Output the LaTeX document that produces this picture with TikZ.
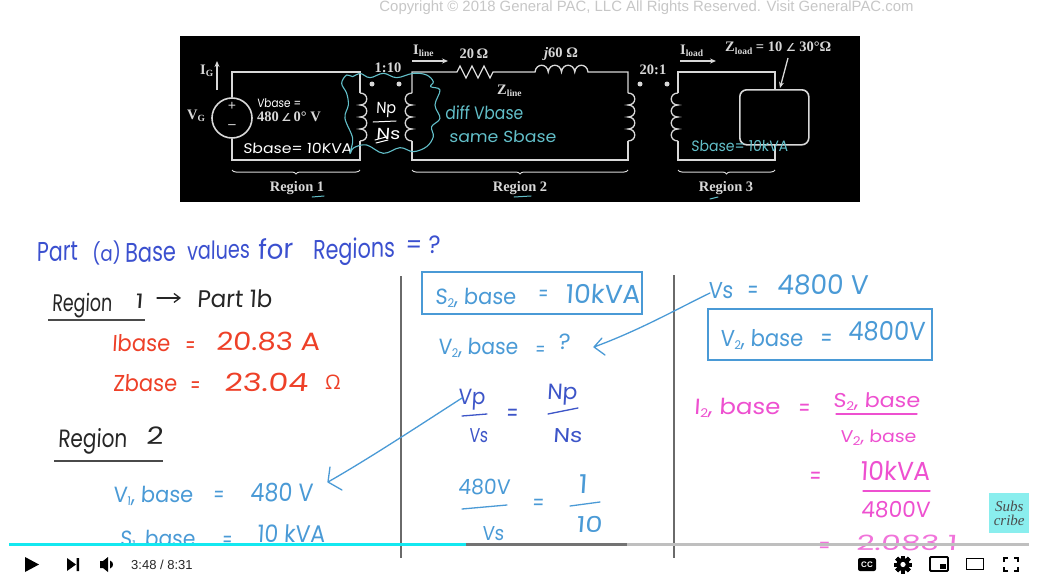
\documentclass[tikz,border=0pt]{standalone}
\usepackage{fontspec}
\usepackage{graphicx}
\usetikzlibrary{decorations.pathreplacing,arrows.meta}
\setmainfont{Liberation Serif}
\newfontfamily\handf[FakeSlant=0.06]{Poppins}
\newfontfamily\uif{Liberation Sans}
\newfontfamily\subsf[Ligatures=TeX]{Liberation Serif}
\newfontfamily\djv{DejaVu Sans}
\newfontfamily\omf{Open Sans}
\definecolor{tealh}{HTML}{62BFC9}
\definecolor{wirec}{HTML}{D8D8D8}
\definecolor{titleb}{HTML}{3B50CF}
\definecolor{redh}{HTML}{EE4028}
\definecolor{skyh}{HTML}{4A9AD6}
\definecolor{pinkh}{HTML}{EE50D0}
\definecolor{inkh}{HTML}{262626}
\definecolor{eqblue}{HTML}{3D55C8}
\definecolor{rulec}{HTML}{6A6A6A}
\definecolor{barcyan}{HTML}{14E8F0}
\definecolor{subbox}{HTML}{8AEEEE}
\tikzset{
  wire/.style={draw=wirec,line width=1.3pt},
  dotn/.style={circle,fill=wirec,minimum size=5pt,inner sep=0},
  slabel/.style={text=wirec,font=\bfseries\fontsize{14.5}{14.5}\selectfont,inner sep=0},
  hwnode/.style={inner sep=0,outer sep=0},
  stroke/.style={line width=1.3pt,line cap=round,line join=round},
  brc/.style={draw=wirec,line width=1pt,decorate,decoration={brace,amplitude=4pt,mirror}},
  uiicon/.style={fill=black,draw=none},
}
% [rotation]{name}{x left}{x right}{y centre}{font size}{colour}{text}
\newcommand\hw[8][0]{%
  \pgfmathsetlengthmacro\hwwid{(#4)-(#3)}%
  \pgfmathsetmacro\hwbase{(#5)+0.36*(#6)}%
  \node[hwnode,anchor=base west,text=#7,rotate=#1] (#2) at (#3,\hwbase)
    {\resizebox{\hwwid}{\height}{\handf\fontsize{#6}{#6}\selectfont #8}};}
\newcommand\sbb[1]{\raisebox{-2.5pt}{\fontsize{9.5}{9.5}\selectfont #1}}
\newcommand\hsub[1]{\raisebox{-3pt}{\fontsize{12}{12}\selectfont #1}}
\begin{document}
\begin{tikzpicture}[x=1pt,y=-1pt]
\useasboundingbox[fill=white] (0,0) rectangle (1038,578);
% ---------- copyright
\node[text=black!22,inner sep=0,font=\uif\fontsize{14.9}{14.9}\selectfont] (copy) at (646.5,8) {Copyright © 2018 General PAC, LLC All Rights Reserved. Visit GeneralPAC.com};
% ---------- black panel
\node[fill=black,minimum width=680pt,minimum height=166pt,inner sep=0,anchor=north west] (panel) at (180,36) {};
% wires
\coordinate (tl) at (232,72); \coordinate (bl) at (232,160);
\coordinate (c1t) at (360,93); \coordinate (c1b) at (360,141);
\coordinate (c2t) at (412,93); \coordinate (c2b) at (412,141);
\coordinate (c3t) at (628,93); \coordinate (c3b) at (628,141);
\coordinate (c4t) at (678,93); \coordinate (c4b) at (678,141);
\node[draw=wirec,line width=1.6pt,circle,minimum size=40pt,inner sep=0] (src) at (232,118) {};
\node[draw=wirec,line width=1.6pt,rounded corners=7pt,minimum width=69pt,minimum height=55pt,inner sep=0,anchor=north west] (load) at (739,89) {};
\draw[wire] (src.north) -- (tl) -- (360,72) -- (c1t);
\draw[wire] (c1t) \foreach \i in {1,2,3,4} { .. controls +(9,0) and +(9,0) .. ++(0,12) };
\draw[wire] (c1b) -- (360,160) -- (bl) -- (src.south);
\draw[wire] (c2t) -- (412,72) -- (457,72)
  -- (460,66) -- (466,78) -- (472,66) -- (478,78) -- (484,66) -- (490,78) -- (493,72)
  -- (510,72) -- (535,72)
  \foreach \i in {1,2,3,4} { .. controls +(1,-9) and +(-1,-9) .. ++(13.25,0) }
  -- (628,72) -- (c3t);
\draw[wire] (c2t) \foreach \i in {1,2,3,4} { .. controls +(-9,0) and +(-9,0) .. ++(0,12) };
\draw[wire] (c2b) -- (412,160) -- (628,160) -- (c3b);
\draw[wire] (c3t) \foreach \i in {1,2,3,4} { .. controls +(9,0) and +(9,0) .. ++(0,12) };
\draw[wire] (c4t) \foreach \i in {1,2,3,4} { .. controls +(-9,0) and +(-9,0) .. ++(0,12) };
\draw[wire] (c4t) -- (678,72) -- (775,72) -- (775,89);
\draw[wire] (c4b) -- (678,160) -- (775,160) -- (775,144);
% dots
\node[dotn] (d1) at (372,84) {}; \node[dotn] (d2) at (399,84) {};
\node[dotn] (d3) at (640,84) {}; \node[dotn] (d4) at (667,84) {};
% source signs
\node[slabel] (plus) at (232,106) {+};
\node[slabel] (minus) at (232,127) {–};
% panel arrows
\coordinate (igA) at (217,90); \coordinate (igB) at (217,61);
\draw[wire,-{Stealth[length=6pt,width=5pt]}] (igA) -- (igB);
\coordinate (ilA) at (412,61); \coordinate (ilB) at (448,61);
\draw[wire,-{Stealth[length=6pt,width=5pt]}] (ilA) -- (ilB);
\coordinate (ildA) at (680,61); \coordinate (ildB) at (716,61);
\draw[wire,-{Stealth[length=6pt,width=5pt]}] (ildA) -- (ildB);
\coordinate (zl) at (788,58);
\draw[wire,-{Stealth[length=6pt,width=5pt]}] (zl) -- (780,88);
% panel labels
\node[slabel,anchor=west] (ig) at (200,71) {I\sbb{G}};
\node[slabel,anchor=west] (vg) at (187,116) {V\sbb{G}};
\node[slabel,anchor=west] (vval) at (257,117) {480\,{\djv\fontsize{11}{11}\selectfont∠}\,0° V};
\node[slabel] (ratio1) at (388,68) {1:10};
\node[slabel,anchor=west] (iline) at (413,51) {I\sbb{line}};
\node[slabel] (r20) at (474,54) {20\,Ω};
\node[slabel] (j60) at (561,54) {\textit{j}60 Ω};
\node[slabel,anchor=west] (zline) at (497,91) {Z\sbb{line}};
\node[slabel] (ratio2) at (653,70) {20:1};
\node[slabel,anchor=west] (iload) at (680,51) {I\sbb{load}};
\node[slabel,anchor=west] (zload) at (725,48) {Z\sbb{load} = 10 {\djv\fontsize{11}{11}\selectfont∠} 30°Ω};
\node[slabel] (reg1) at (297,188) {Region 1};
\node[slabel] (reg2) at (520,188) {Region 2};
\node[slabel] (reg3) at (726,188) {Region 3};
% braces
\coordinate (b1a) at (232,170); \coordinate (b1b) at (360,170);
\coordinate (b2a) at (412,170); \coordinate (b2b) at (628,170);
\coordinate (b3a) at (678,170); \coordinate (b3b) at (775,170);
\draw[brc] (b1a) -- (b1b);
\draw[brc] (b2a) -- (b2b);
\draw[brc] (b3a) -- (b3b);
% panel handwriting
\hw{pa}{257}{301}{103}{12}{white}{Vbase =}
\hw{pb}{243}{352}{148}{14}{white}{Sbase= 10KVA}
\hw{pc}{376}{396}{108}{16}{white}{Np}
\hw{pd}{376}{400}{134}{16}{white}{Ns}
\draw[white,stroke,line width=1pt] (373,122) -- (396,121);
\draw[white,stroke,line width=1pt] (375,140) -- (386,137) (376,143) -- (388,140);
\hw{pe}{445}{523}{113}{18}{tealh}{diff Vbase}
\hw{pf}{449}{556}{137}{16}{tealh}{same Sbase}
\hw{pg}{691}{788}{146}{15}{tealh}{Sbase= 10kVA}
\draw[tealh,stroke,line width=1pt] (312,197) -- (324,196) (514,197) -- (531,196) (710,199) -- (718,197);
\begin{scope}[shift={(170,25)},x=0.3333pt,y=-0.3333pt]
\draw[tealh,line width=1.1pt,line join=round] plot[smooth cycle,tension=0.6] coordinates {
 (515,175) (530,150) (548,155) (570,145) (600,158) (640,145) (680,158) (730,145) (770,150)
 (790,170) (782,185) (810,195) (795,240) (810,280) (785,305) (790,335) (770,365) (730,380) (690,368) (640,385)
 (590,360) (552,368) (540,385) (548,340) (525,280) (535,240) (530,205)};
\end{scope}
% ---------- rules
\coordinate (ra) at (401,276); \coordinate (rb) at (401,558);
\coordinate (rc) at (674,275); \coordinate (rd) at (674,558);
\draw[rulec,line width=1.4pt] (ra) -- (rb);
\draw[rulec,line width=1.4pt] (rc) -- (rd);
% ---------- title
\hw[2]{t1}{37}{78}{252}{27}{titleb}{Part}
\hw[2]{t2}{92}{121}{254}{21}{titleb}{(a)}
\hw[2]{t3}{125}{176}{253}{27}{titleb}{Base}
\hw[2]{t4}{187}{250}{251}{25}{titleb}{values}
\hw[2]{t5}{258}{293}{250}{27}{titleb}{for}
\hw[2]{t6}{313}{395}{250}{27}{titleb}{Regions}
\hw{t7}{405}{440}{244}{25}{titleb}{= ?}
% ---------- left column
\hw{a1}{52}{112}{303}{24}{inkh}{Region}
\hw{a2}{135}{143}{301}{20}{inkh}{1}
\hw{a3}{197}{272}{299}{24}{inkh}{Part 1b}
\draw[inkh,stroke,-{Straight Barb[length=6pt,width=9pt]}] (a2.east) ++(14,-3) -- ++(24,0);
\coordinate (u1a) at (48,320); \coordinate (u1b) at (145,320);
\draw[rulec!70!black,line width=1.6pt] (u1a) -- (u1b);
\hw{b1}{112}{170}{343}{23}{redh}{Ibase}
\hw{b2}{185}{195}{345}{23}{redh}{=}
\hw{b3}{216}{320}{341}{25}{redh}{20.83 A}
\hw{c1}{113}{177}{383}{23}{redh}{Zbase}
\hw{c2}{190}{200}{385}{23}{redh}{=}
\hw{c3}{224}{308}{382}{25}{redh}{23.04}
\node[hwnode,text=redh,font=\omf\fontsize{20}{20}\selectfont] (c4) at (333,382) {Ω};
\hw{d1}{58}{127}{438}{25}{inkh}{Region}
\hw{d2}{146}{163}{436}{24}{inkh}{2}
\coordinate (u2a) at (54,461); \coordinate (u2b) at (163,461);
\draw[rulec!70!black,line width=1.6pt] (u2a) -- (u2b);
\hw{e1}{113}{193}{495}{22}{skyh}{V\hsub{1}, base}
\hw{e2}{213}{224}{495}{22}{skyh}{=}
\hw{e3}{250}{313}{492}{25}{skyh}{480 V}
\begin{scope}
\clip (0,0) rectangle (1038,544);
\hw{f1}{120}{195}{539}{22}{skyh}{S\hsub{1}, base}
\hw{f2}{222}{232}{540}{22}{skyh}{=}
\hw{f3}{257}{325}{534}{24}{skyh}{10 kVA}
\end{scope}
% ---------- middle column
\draw[skyh,line width=1.4pt] (422,272) rectangle (642,314);
\hw{g1}{435}{516}{297}{22}{skyh}{S\hsub{2}, base}
\hw{g2}{538}{548}{294}{22}{skyh}{=}
\hw{g3}{565}{640}{294}{26}{skyh}{10kVA}
\hw{h1}{438}{518}{347}{22}{skyh}{V\hsub{2}, base}
\hw{h2}{535}{545}{349}{20}{skyh}{=}
\hw{h3}{558}{570}{342}{22}{skyh}{?}
\hw{i1}{458}{485}{397}{22}{eqblue}{Vp}
\hw{i2}{469}{488}{435}{20}{eqblue}{Vs}
\coordinate (l1a) at (462,416); \coordinate (l1b) at (487,414);
\draw[eqblue,stroke] (l1a) -- (l1b);
\hw{i3}{506}{518}{413}{24}{eqblue}{=}
\hw{i4}{547}{577}{392}{22}{eqblue}{Np}
\hw{i5}{553}{582}{435}{20}{eqblue}{Ns}
\coordinate (l2a) at (548,414); \coordinate (l2b) at (578,408);
\draw[eqblue,stroke] (l2a) -- (l2b);
\hw{j1}{458}{510}{487}{21}{skyh}{480V}
\hw{j2}{482}{504}{533}{20}{skyh}{Vs}
\coordinate (l3a) at (462,509); \coordinate (l3b) at (507,505);
\draw[skyh,stroke] (l3a) -- (l3b);
\hw{j3}{532}{544}{503}{22}{skyh}{=}
\hw{j4}{578}{587}{484}{26}{skyh}{1}
\hw{j5}{576}{602}{525}{22}{skyh}{10}
\coordinate (l4a) at (570,506); \coordinate (l4b) at (600,502);
\draw[skyh,stroke] (l4a) -- (l4b);
% ---------- right column
\hw{k1}{708}{733}{290}{23}{skyh}{Vs}
\hw{k2}{747}{758}{290}{24}{skyh}{=}
\hw{k3}{777}{868}{285}{27}{skyh}{4800 V}
\draw[skyh,line width=1.4pt] (708,309) rectangle (932,360);
\hw{m1}{720}{803}{338}{23}{skyh}{V\hsub{2}, base}
\hw{m2}{820}{832}{338}{24}{skyh}{=}
\hw{m3}{848}{925}{331}{26}{skyh}{4800V}
\hw{n1}{694}{780}{407}{22}{pinkh}{I\hsub{2}, base}
\hw{n2}{798}{810}{408}{24}{pinkh}{=}
\hw{n3}{833}{920}{400}{20}{pinkh}{S\hsub{2}, base}
\coordinate (l5a) at (836,414); \coordinate (l5b) at (917,414);
\draw[pinkh,stroke] (l5a) -- (l5b);
\hw{n4}{840}{916}{436}{17}{pinkh}{V\hsub{2}, base}
\hw{o1}{809}{821}{476}{24}{pinkh}{=}
\hw{o2}{860}{930}{471}{26}{pinkh}{10kVA}
\coordinate (l6a) at (863,491); \coordinate (l6b) at (930,491);
\draw[pinkh,stroke] (l6a) -- (l6b);
\hw{o3}{861}{930}{510}{22}{pinkh}{4800V}
\hw{p1}{818}{830}{546}{22}{pinkh!80!white}{=}
\hw{p2}{856}{957}{543}{21}{pinkh!80!white}{2.083 1}
% ---------- hand arrows
\coordinate (arrA) at (710,293); \coordinate (arrB) at (594,347);
\draw[skyh,stroke] (arrA) .. controls (675,310) and (640,330) .. (arrB) -- ++(8,-9) (arrB) -- ++(11,8);
\coordinate (arrC) at (462,398); \coordinate (arrD) at (328,482);
\draw[skyh,stroke] (arrC) .. controls (420,425) and (370,458) .. (arrD) -- ++(2,-15) (arrD) -- ++(14,8);
% ---------- player bar
\coordinate (pb0) at (9,544.5); \coordinate (pb1) at (466,544.5);
\coordinate (pb2) at (627,544.5); \coordinate (pb3) at (1029,544.5);
\draw[line width=3pt,black!25] (pb2) -- (pb3);
\draw[line width=3pt,black!55] (pb1) -- (pb2);
\draw[line width=3pt,barcyan] (pb0) -- (pb1);
\node[fill=subbox,minimum width=40pt,minimum height=40pt,inner sep=0,align=center,anchor=north west,text=black!70,font=\itshape\subsf\fontsize{15}{15}\selectfont] (sub) at (989,493) {Subs\\[-1pt]cribe};
% icons
\fill[uiicon] (25,557) -- (25,572) -- (39,564.5) -- cycle;
\fill[uiicon] (67,558) -- (67,571) -- (76,564.5) -- cycle (76.5,558) rectangle (79,571);
\fill[uiicon] (100,561) -- (103,561) -- (108,557) -- (108,572) -- (103,568) -- (100,568) -- cycle;
\fill[uiicon] (110,560.5) .. controls (114,562) and (114,567) .. (110,568.5) -- cycle;
\node[inner sep=0,anchor=west,text=black!85,font=\uif\fontsize{13}{13}\selectfont] (time) at (131,564.5) {3:48 / 8:31};
\node[fill=black,rounded corners=2pt,minimum width=18pt,minimum height=13pt,inner sep=0,text=white,font=\uif\bfseries\fontsize{8}{8}\selectfont] (cc) at (867,564.5) {CC};
\foreach \a in {0,45,...,315} { \fill[rotate around={\a:(903,564.5)},black] (901,555.5) rectangle (905,573.5); }
\fill[black] (903,564.5) circle (6.5pt);
\fill[white] (903,564.5) circle (2.6pt);
\draw[black,line width=1.8pt,rounded corners=1pt] (930,557) rectangle (948,571);
\fill[black] (939.5,563.5) rectangle (945.5,568.5);
\draw[black,line width=1.8pt] (966.5,558.5) rectangle (983.5,569.5);
\draw[black,line width=1.8pt] (1004,562) -- (1004,558) -- (1008,558) (1014,558) -- (1018,558) -- (1018,562)
  (1018,567) -- (1018,571) -- (1014,571) (1008,571) -- (1004,571) -- (1004,567);
\end{tikzpicture}
\end{document}
